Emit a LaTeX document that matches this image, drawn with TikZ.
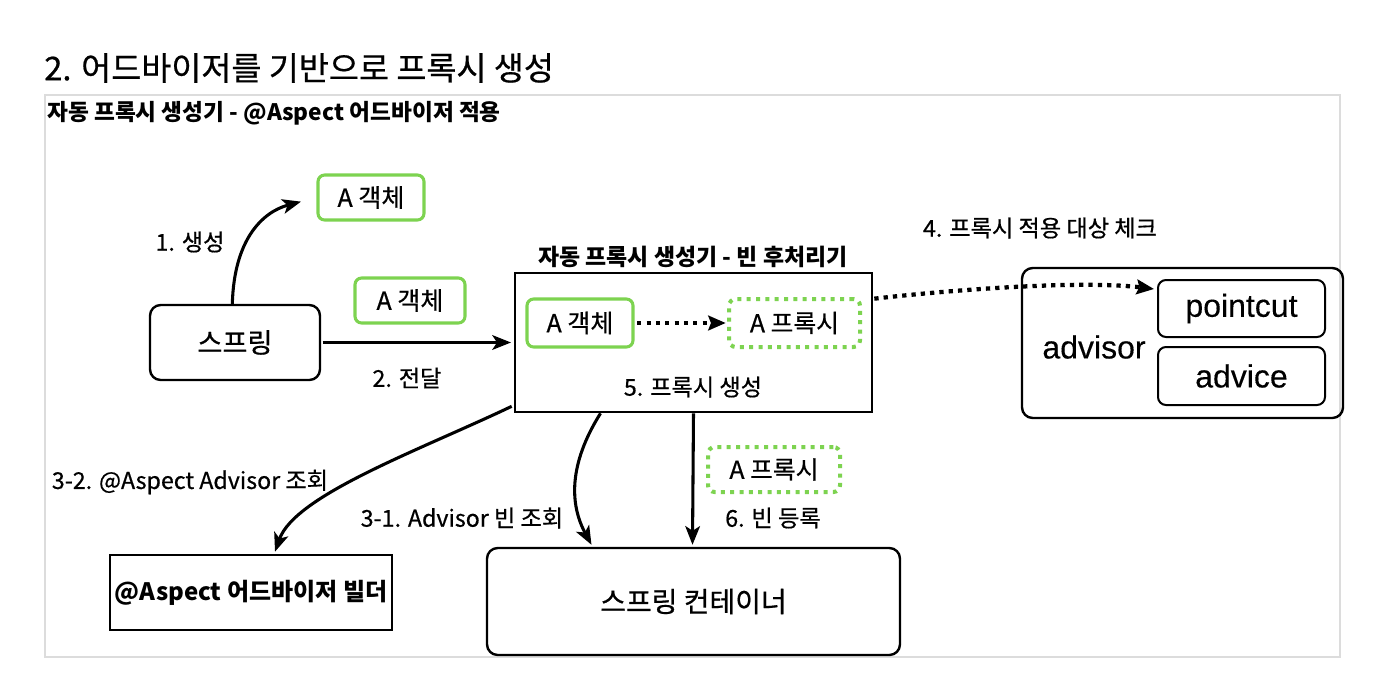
\documentclass[tikz,border=0pt]{standalone}
\usepackage{fontspec}
\setmainfont{Noto Sans CJK KR}
\newfontfamily\medfont{Noto Sans CJK KR}[FakeBold=0.6]
\newfontfamily\latinfont{Liberation Sans}[FakeBold=0.3]
\usetikzlibrary{arrows.meta,calc}
\definecolor{grn}{RGB}{125,211,80}
\definecolor{framegray}{RGB}{220,220,220}
\begin{document}
\begin{tikzpicture}[x=0.75pt,y=-0.75pt,
  gbox/.style={draw=grn, line width=2.3pt, rounded corners=5pt, inner sep=0pt, font=\medfont\fontsize{18.8}{22}\selectfont},
  gdot/.style={draw=grn, line width=3pt, rounded corners=5pt, dash pattern=on 3pt off 4pt, inner sep=0pt, font=\medfont\fontsize{18.6}{22}\selectfont},
  rbox/.style={draw, line width=1.8pt, rounded corners=8pt, inner sep=0pt},
  sbox/.style={draw, line width=2pt, inner sep=0pt},
  lbl/.style={font=\medfont\fontsize{17.4}{20}\selectfont, inner sep=0pt},
  arr/.style={line width=2.3pt, -{Stealth[length=14pt,width=11pt,inset=3.5pt]}},
  darr/.style={line width=3.2pt, dash pattern=on 3.2pt off 3.8pt, -{Stealth[length=13pt,width=11pt,inset=2pt]}}
]
\useasboundingbox (0,0) rectangle (1390,676);
\fill[white] (0,0) rectangle (1390,676);
% frame
\draw[framegray, line width=2pt] (45,95) rectangle (1340,657);
% titles
\node[anchor=west, inner sep=0pt, font=\medfont\fontsize{24.5}{28}\selectfont] (title) at (44,68) {2. 어드바이저를 기반으로 프록시 생성};
\node[anchor=west, inner sep=0pt, font=\bfseries\fontsize{17}{20}\selectfont] (sub) at (47,113) {자동 프록시 생성기 - @Aspect 어드바이저 적용};
% nodes
\node[gbox, minimum width=79.5pt, minimum height=33.75pt] (A1) at (371,197.5) {A 객체};
\node[rbox, minimum width=127.5pt, minimum height=56.25pt, font=\medfont\fontsize{20.4}{24}\selectfont] (sp) at (235,342.5) {스프링};
\node[gbox, minimum width=82.5pt, minimum height=33.75pt] (A2) at (410,300.5) {A 객체};
\node[sbox, minimum width=267.75pt, minimum height=104.25pt] (main) at (693.5,342.5) {};
\node[gbox, minimum width=79.5pt, minimum height=36pt] (A3) at (580,323) {A 객체};
\node[gdot, minimum width=98.25pt, minimum height=36pt] (P1) at (794.5,323) {A 프록시};
\node[rbox, minimum width=240.75pt, minimum height=112.5pt] (adv) at (1182.5,343) {};
\node[rbox, rounded corners=6pt, line width=1.5pt, minimum width=125.25pt, minimum height=42.75pt, font=\latinfont\fontsize{24}{27}\selectfont] (pc) at (1241.5,308.5) {pointcut};
\node[rbox, rounded corners=6pt, line width=1.5pt, minimum width=125.25pt, minimum height=43.5pt, font=\latinfont\fontsize{24}{27}\selectfont] (ad) at (1241.5,376) {advice};
\node[gdot, minimum width=99pt, minimum height=33.75pt] (P2) at (774,469.5) {A 프록시};
\node[sbox, minimum width=211.5pt, minimum height=56.25pt, font=\bfseries\fontsize{18}{21}\selectfont] (bld) at (251,592.5) {@Aspect 어드바이저 빌더};
\node[rbox, minimum width=309.75pt, minimum height=80.25pt, font=\medfont\fontsize{21}{25}\selectfont] (ct) at (693.5,601.5) {스프링 컨테이너};
% labels
\node[lbl] (l1) at (190,242) {1. 생성};
\node[lbl] (l2) at (407,378) {2. 전달};
\node[lbl, font=\bfseries\fontsize{17.2}{20}\selectfont] (mt) at (693,257) {자동 프록시 생성기 - 빈 후처리기};
\node[lbl] (l5) at (693,387) {5. 프록시 생성};
\node[lbl] (l4) at (1040,228) {4. 프록시 적용 대상 체크};
\node[inner sep=0pt, font=\latinfont\fontsize{24}{27}\selectfont] (advt) at (1094,347) {advisor};
\node[lbl] (l32) at (190,482) {3-2. @Aspect Advisor 조회};
\node[lbl] (l31) at (462,518) {3-1. Advisor 빈 조회};
\node[lbl] (l6) at (773,518) {6. 빈 등록};
% connectors
\draw[arr, shorten >=12pt] ([xshift=-2pt]sp.north) .. controls (234,240) and (262,212) .. (A1.west);
\draw[arr, shorten <=1pt, shorten >=2pt] (sp) -- (main);
\draw[darr, shorten <=2pt, shorten >=1pt] (A3) -- (P1);
\draw[darr] ($(main.north east)+(1,27)$) .. controls (950,290) and (1080,280) .. ($(pc.north west)+(-3,10)$);
\draw[arr] ($(main.south west)+(-2,-7)$) .. controls (420,450) and (295,495) .. ($(bld.north)+(24,-2)$);
\draw[arr] ($(main.south)+(-93,0)$) .. controls (568,465) and (570,505) .. ($(ct.north)+(-102,-2)$);
\draw[arr] (main.south) -- ($(ct.north)+(-1,-2)$);
\end{tikzpicture}
\end{document}
